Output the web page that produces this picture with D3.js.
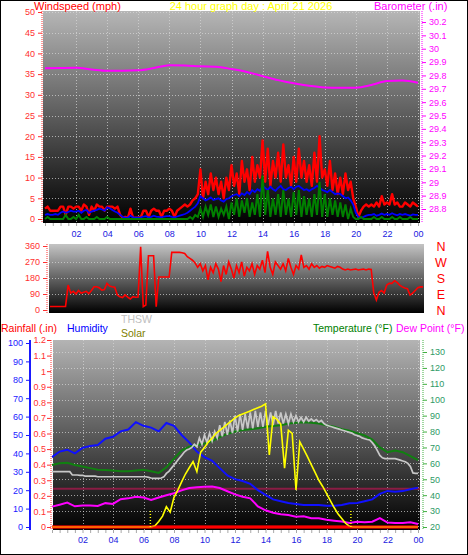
<!DOCTYPE html>
<html><head><meta charset="utf-8">
<script src="https://cdn.jsdelivr.net/npm/d3@7"></script>
<style>
body{margin:0;background:#fff}
svg{display:block}
text{font-family:Arial,"Liberation Sans",sans-serif}
</style>
</head><body>
<svg id="c" width="468" height="555"></svg>
<script>
// ---------------- DATA ----------------
const titleText = "24 hour graph day : April 21 2026";
const hourTicks = [2,4,6,8,10,12,14,16,18,20,22,24];
const hourTickLabels = ["02","04","06","08","10","12","14","16","18","20","22","00"];
const minorHourTicks = [0,0.5,1,1.5,2,2.5,3,3.5,4,4.5,5,5.5,6,6.5,7,7.5,8,8.5,9,9.5,10,10.5,11,11.5,12,12.5,13,13.5,14,14.5,15,15.5,16,16.5,17,17.5,18,18.5,19,19.5,20,20.5,21,21.5,22,22.5,23,23.5,24];

const windTicks = [0,5,10,15,20,25,30,35,40,45,50];
const baroTicks = [28.8,28.9,29.0,29.1,29.2,29.3,29.4,29.5,29.6,29.7,29.8,29.9,30.0,30.1,30.2];
const dirTicks = [0,90,180,270,360];
const dirLetters = ["N","E","S","W","N"];
const humTicks = [0,10,20,30,40,50,60,70,80,90,100];
const rainTicks = [0,0.1,0.2,0.3,0.4,0.5,0.6,0.7,0.8,0.9,1.0,1.1,1.2];
const tempTicks = [20,30,40,50,60,70,80,90,100,110,120,130];

// wind, 10-minute samples (mph)
const windHigh = [
 2.5,3,2,2,2,2,  3,3,1,3,3,2.5,  3,3,2,3.5,3,1,  3,2,3.5,3,3,2,
 3,3,3,2.5,3,1,  0.3,0.5,0.3,2.5,0.3,0.3,  0.3,0.5,2,2,0.5,2,  2.5,2,2,0.5,2,2,
 2.5,2,0.5,2,2.5,3,  3.5,3,3.5,4.5,5,6,  12,5,9,6,11,7,  10,6,9,5,10,7,
 13,8,11,6,14,9,  12,7,15,9,13,10,  19,9,17,8,14,10,  16,9,18,10,13,8,
 15,9,17,10,14,9,  13,8,16,9,20,10,  12,8,14,7,11,6,  10,6,11,7,9,5,
 3,0.5,2,3,3.5,3,  3.5,3,4,3,5.5,3.5,  4,3.5,6,3.5,4,3,  3,4,3.5,3,4,3.5,
 3];
const windAvg = [
 1,1.2,1,1,1.2,1,  1.5,1.8,1.5,1.7,2,1.8,  1.8,2,1.5,2,2.2,1.5,  1.8,2,2.2,2.5,2.3,2,
 2.8,2.6,2.2,1.8,1.5,1,  0.5,0.3,0.3,0.8,0.4,0.3,  0.3,0.4,0.6,0.7,0.4,0.5,  0.8,0.6,0.5,0.4,0.6,0.7,
 0.7,0.5,0.4,0.6,0.8,1,  1.2,1.5,2,2.5,3,3.8,  5.5,5,4.5,4.8,5.2,4.6,  4.8,5,4.5,4.2,4.8,5,
 5.5,5.8,6,5.5,6.2,5.8,  6.5,6,7,6.5,7.2,6.8,  8,7.5,7,7.8,7.2,6.8,  7.5,8,7.2,7,7.5,7.8,
 7.2,7.8,8,7.5,7,7.2,  6.8,7.2,7.5,8,7.6,7,  6.8,6.5,7,6.5,6,6.2,  6,5.5,5,5.2,4.5,3.5,
 1.5,0.5,0.3,0.5,0.8,1,  1,1.2,0.8,1,1.3,1,  1.2,1,1.4,1.1,0.9,1.2,  1,1.2,1,0.8,1.1,1,
 1];
const windLow = [
 0,0.5,0,0,0,0,  0,0,1,0,0,0.5,  0,1,0,0,0.5,0,  0,0,0.5,0,0,0,
 0.5,0,0,0,0,0,  0,0,0,0,0,0,  0,0,0,0,0,0,  0,0,0,0,0,0,
 0,0,0,0,0,0,  0,0,0.5,0,1,0.5,  2.5,0.5,3,1,3.5,0.5,  3,0.5,2.5,1,3,0,
 4,1,5,0.5,4.5,1.5,  5,0.5,4,1,6,0.5,  10.5,1,7,0.5,5,1,  6,0.5,7,1,5,0.5,
 6.5,1,7,0.5,5.5,1,  5,0.5,6,1,9,0.5,  6,0.5,5,1,4.5,0.5,  4,0.5,3.5,0,2.5,0.5,
 0,0,0.5,0,0,0,  0,0.5,0,0,0.5,0,  0,0,0.5,0,0,0.5,  0,0,0,0.5,0,0,
 0];
// barometer, hourly (in)
const baro = [29.853,29.856,29.857,29.845,29.835,29.835,29.838,29.855,29.877,29.875,29.868,29.865,
 29.848,29.826,29.795,29.765,29.741,29.722,29.710,29.707,29.708,29.728,29.758,29.762,29.745];
// wind direction, 10-minute samples (degrees)
const windDir = [
 20,20,20,20,20,20,  20,140,96,105,90,110,  95,100,105,92,110,131,  131,125,112,115,150,135,
 131,128,84,75,70,85,  73,62,75,72,73,356,  19,28,305,305,305,19,  186,186,186,186,186,324,
 324,324,324,322,318,300,  290,280,265,240,260,220,  250,170,240,210,260,230,  160,250,200,270,230,180,
 250,210,270,190,240,220,  260,200,250,230,280,210,  330,240,200,270,250,230,  260,220,290,240,200,250,
 230,310,240,250,230,260,  240,250,235,245,240,250,  245,240,235,245,240,230,  225,230,225,228,230,225,
 228,230,225,230,228,96,  56,100,110,95,140,150,  150,165,155,140,130,124,  120,84,95,110,125,130,
 130];
// 30-minute samples
const humidity = [38,41,42,40,43,44,44.6,48,49,52,53,57,55,54,52,56.5,55,50,46,41,38,36,32,28,26,25,23.5,20,17.5,15,14,13,12.5,12,12,12,11.5,11.5,12,12.9,13,14,15,18,19.6,19.2,19.5,20.5,21.4];
const temperature = [59,60,60.4,59,58,57,56,55.8,55.5,55,55,55.5,56,55,54,57.5,63,68,70.5,71.5,72.5,74,76.5,78.5,80,81,81.5,82,83,83.5,84,85,85.5,85.8,85.5,85,84,83,81.5,80.5,79,77.5,75,70,67,68,67,64.5,62];
const dewPoint = [32.8,34,35.3,33,33.5,33.5,33.2,35,34.5,37.5,38,39,38.5,37,38.5,40,41.2,43,44.5,45,45.3,45.5,44.5,42.5,40.5,39,38,33,30.5,29,28,27.5,26.5,26.8,25.5,25.5,24.5,24,23.5,22.5,23.3,23,23.3,25.6,22.8,22.5,22.5,23,21.9];
// THSW index, 10-minute samples (F)
const thsw = [
 54.8,54.8,54.8,54.8,54.8,54.8,  54.8,54.8,52.7,52.7,52.7,52.5,  52.5,52,52,52,52,52,  51.6,51.6,51.6,51.6,51.6,51.6,
 51.6,51.6,51.6,51.6,51.6,51.6,  51.6,51.6,51.6,51.6,51.6,51.6,  51.6,51.6,51.2,50.8,50.6,50.6,  50.6,50.8,51.5,53.7,55,57,
 59,61,63,65,67,68.4,  69,70,72,70.5,76,72,  78,73,79,74,80,76,  84,77,86,78,87,79,
 90,80,91,81,91,82,  92,82,93,83,92,83,  93,84,92,84,93,85,  92,85,91,85,91,86,
 90,86,89,86,89,86.5,  88,86.5,87.5,86,87,85,  84,83.5,83,82.5,82,81.5,  81,80.5,80,79.5,79,78,
 77.5,77,76,75.5,75,74.7,  73,71,68,65,63.5,63,  63,63,63,63,62.5,62,  61.5,61,60,58,54,53.7,
 53.7];
// solar radiation, 15-minute samples (W/m2)
const solar = [
 0,0,0,0, 0,0,0,0, 0,0,0,0, 0,0,0,0, 0,0,0,0, 0,0,0,0,
 0,0,0,8, 35,70,130,95, 190,237,290,340, 380,420,355,480, 510,545,570,600, 620,640,660,680,
 700,715,725,735, 745,755,765,775, 790,462,708,690, 660,378,620,600, 237,547,500,451, 400,350,300,260,
 216,170,125,85, 55,24,5,0, 0,0,0,0, 0,0,0,0, 0,0,0,0, 0,0,0,0,
 0];
// rainfall, hourly (in)
const rainfall = [0,0,0,0,0,0,0,0,0,0,0,0,0,0,0,0,0,0,0,0,0,0,0,0,0];
const sunTimes = [6.45, 19.6];
const refLevel = [44]; // constant maroon line (F)

// ---------------- DRAW ----------------
const svg = d3.select("#c");
const defs = svg.append("defs");
function grad(id, top) {
  const g = defs.append("linearGradient").attr("id", id).attr("x1",0).attr("y1",0).attr("x2",0).attr("y2",1);
  g.append("stop").attr("offset","0%").attr("stop-color",top);
  g.append("stop").attr("offset","100%").attr("stop-color","#000");
}
grad("gTop","#b6b6b6"); grad("gMid","#c4c4c4"); grad("gBot","#b4b4b4");

svg.append("rect").attr("x",0.5).attr("y",0.5).attr("width",467).attr("height",554)
  .attr("fill","#fff").attr("stroke","#000");

const ser = (arr, step) => arr.map((v,i)=>({h:i*step, v}));

function vgrid(g, x, y0, y1) {
  g.selectAll(null).data(hourTicks).enter().append("line")
    .attr("x1",d=>Math.round(x(d))+0.5).attr("x2",d=>Math.round(x(d))+0.5).attr("y1",y0).attr("y2",y1)
    .attr("stroke","#d8d8d8").attr("stroke-dasharray","1,2").attr("stroke-opacity",0.7);
}
function hgrid(g, y, ticks, x0, x1) {
  g.selectAll(null).data(ticks).enter().append("line")
    .attr("y1",d=>Math.round(y(d))+0.5).attr("y2",d=>Math.round(y(d))+0.5).attr("x1",x0).attr("x2",x1)
    .attr("stroke","#d8d8d8").attr("stroke-dasharray","1,2").attr("stroke-opacity",0.7);
}
function styleAxis(g, color, dotted, fs) {
  g.select(".domain").attr("stroke",color).attr("stroke-dasharray",dotted?"1,1":null);
  g.selectAll(".tick line").attr("stroke",color);
  g.selectAll(".tick text").attr("fill",color).style("font-size",(fs||9)+"px").style("font-family","Arial, 'Liberation Sans', sans-serif");
}
function xAxis(x, y, pad) {
  const gm = svg.append("g").attr("transform",`translate(0,${y})`)
    .call(d3.axisBottom(x).tickValues(minorHourTicks).tickSize(3).tickFormat(""));
  gm.select(".domain").remove();
  gm.selectAll(".tick line").attr("stroke","#a8a8a8");
  const g = svg.append("g").attr("transform",`translate(0,${y})`)
    .call(d3.axisBottom(x).tickValues(hourTicks).tickSize(0).tickPadding(pad).tickFormat((d,i)=>hourTickLabels[i]));
  g.select(".domain").remove();
  g.selectAll(".tick text").attr("fill","#2020e0").style("font-size","9px");
}

// ===== TOP PANEL =====
const T = {x0:43, x1:420, y0:11, y1:223};
const xT = d3.scaleLinear([0,24],[45,418]);
const yW = d3.scaleLinear([0,50],[219,12]);
const yB = d3.scaleLinear([28.8,30.2],[209,22]);
svg.append("rect").attr("x",T.x0).attr("y",T.y0).attr("width",T.x1-T.x0).attr("height",T.y1-T.y0).attr("fill","url(#gTop)");
const gT = svg.append("g");
hgrid(gT, yW, windTicks.slice(1), T.x0, T.x1);
vgrid(gT, xT, T.y0, T.y1);
svg.append("path").datum(ser(baro,1)).attr("fill","none").attr("stroke","#ff00ff").attr("stroke-width",2)
  .attr("d", d3.line().x(d=>xT(d.h)).y(d=>yB(d.v)).curve(d3.curveMonotoneX));
const wl = d3.line().x(d=>xT(d.h)).y(d=>yW(d.v));
svg.append("path").datum(ser(windHigh,1/6)).attr("fill","none").attr("stroke","#ff0000").attr("stroke-width",2.4).attr("stroke-linejoin","round").attr("d",wl);
svg.append("path").datum(ser(windAvg,1/6)).attr("fill","none").attr("stroke","#0000ff").attr("stroke-width",1.8).attr("d",wl);
svg.append("path").datum(ser(windLow,1/6)).attr("fill","none").attr("stroke","#008000").attr("stroke-width",2).attr("d",wl);
// axes
let ga = svg.append("g").attr("transform","translate(42,0)").call(d3.axisLeft(yW).tickValues(windTicks).tickSize(4).tickPadding(3));
styleAxis(ga,"#ff3030",true);
ga.select(".domain").attr("d",`M0,${T.y0}V${T.y1}`);
ga = svg.append("g").attr("transform","translate(422,0)").call(d3.axisRight(yB).tickValues(baroTicks).tickSize(4).tickPadding(3).tickFormat(d=>String(+d.toFixed(1))));
styleAxis(ga,"#ff00ff",true);
ga.select(".domain").attr("d",`M0,${T.y0}V${T.y1}`);
xAxis(xT, T.y1, 8);

// titles
svg.append("text").attr("x",34).attr("y",10).attr("fill","#ff0000").style("font-size","11px").text("Windspeed (mph)");
svg.append("text").attr("x",251).attr("y",10).attr("text-anchor","middle").attr("fill","#ffff00").style("font-size","11px").text(titleText);
svg.append("text").attr("x",374).attr("y",10).attr("fill","#ff00ff").style("font-size","11px").text("Barometer (.in)");

// ===== MIDDLE PANEL =====
const M = {x0:49, x1:424, y0:244, y1:313};
const xM = d3.scaleLinear([0,24],[50,423]);
const yD = d3.scaleLinear([0,360],[310,246]);
svg.append("rect").attr("x",M.x0).attr("y",M.y0).attr("width",M.x1-M.x0).attr("height",M.y1-M.y0).attr("fill","url(#gMid)");
hgrid(svg.append("g"), yD, [90,180,270], M.x0, M.x1);
svg.append("path").datum(ser(windDir,1/6)).attr("fill","none").attr("stroke","#ff0000").attr("stroke-width",1.6)
  .attr("d", d3.line().x(d=>xM(d.h)).y(d=>yD(d.v)));
ga = svg.append("g").attr("transform","translate(47,0)").call(d3.axisLeft(yD).tickValues(dirTicks).tickSize(4).tickPadding(3));
styleAxis(ga,"#ff3030",true);
ga.select(".domain").attr("d",`M0,${M.y0}V${M.y1}`);
svg.selectAll(null).data(dirTicks).enter().append("text")
  .attr("x",441).attr("y",d=>yD(d)).attr("dy","0.36em").attr("text-anchor","middle")
  .attr("fill","#ff0000").style("font-size","12.5px").text((d,i)=>dirLetters[i]);

// ===== BOTTOM PANEL =====
const B = {x0:53, x1:420, y0:340, y1:530};
const xB = d3.scaleLinear([0,24],[52,418]);
const yH = d3.scaleLinear([0,100],[527,343]);
const yR = d3.scaleLinear([0,1.2],[527,340]);
const yTp = d3.scaleLinear([20,130],[527,352]);
const yS = d3.scaleLinear([0,1200],[527,340]);
svg.append("rect").attr("x",B.x0).attr("y",B.y0).attr("width",B.x1-B.x0).attr("height",B.y1-B.y0).attr("fill","url(#gBot)");
const gB = svg.append("g");
hgrid(gB, yTp, tempTicks.slice(1), B.x0, B.x1);
vgrid(gB, xB, B.y0, B.y1);
svg.selectAll(null).data(refLevel).enter().append("line")
  .attr("x1",B.x0).attr("x2",B.x1).attr("y1",d=>yTp(d)).attr("y2",d=>yTp(d))
  .attr("stroke","#8a1c44").attr("stroke-width",2);
const l30 = (y)=>d3.line().x(d=>xB(d.h)).y(d=>y(d.v));
svg.append("path").datum(ser(humidity,0.5)).attr("fill","none").attr("stroke","#1010ff").attr("stroke-width",2).attr("d",l30(yH));
svg.append("path").datum(ser(temperature,0.5)).attr("fill","none").attr("stroke","#108010").attr("stroke-width",2).attr("d",l30(yTp));
svg.append("path").datum(ser(thsw,1/6)).attr("fill","none").attr("stroke","#c8c8c8").attr("stroke-width",1.7).attr("d",l30(yTp));
svg.append("path").datum(ser(dewPoint,0.5)).attr("fill","none").attr("stroke","#ff00ff").attr("stroke-width",2).attr("d",l30(yTp));
// rain under solar, solar, rain blended on top
svg.append("path").datum(ser(rainfall,1)).attr("fill","none").attr("stroke","#ff0000").attr("stroke-width",3).attr("d",l30(yR));
svg.append("path").datum(ser(solar,0.25)).attr("fill","none").attr("stroke","#ffff00").attr("stroke-width",1.6).attr("d",l30(yS));
svg.append("path").datum(ser(rainfall,1)).attr("fill","none").attr("stroke","#ff0000").attr("stroke-opacity",0.5).attr("stroke-width",3).attr("d",l30(yR));
svg.selectAll(null).data(sunTimes).enter().append("line")
  .attr("x1",d=>xB(d)).attr("x2",d=>xB(d)).attr("y1",511).attr("y2",527)
  .attr("stroke","#ffff00").attr("stroke-dasharray","1,2").attr("stroke-width",1.5);
// axes
ga = svg.append("g").attr("transform","translate(30,0)").call(d3.axisLeft(yH).tickValues(humTicks).tickSize(4).tickPadding(3));
styleAxis(ga,"#1a1aff",false);
ga.select(".domain").attr("d",`M0,${B.y0}V${B.y1}`).attr("stroke-width",2);
ga = svg.append("g").attr("transform","translate(51,0)").call(d3.axisLeft(yR).tickValues(rainTicks).tickSize(4).tickPadding(1).tickFormat(d=>String(+d.toFixed(1))));
styleAxis(ga,"#ff3030",true);
ga.select(".domain").attr("d",`M0,${B.y0}V${B.y1}`);
ga = svg.append("g").attr("transform","translate(423,0)").call(d3.axisRight(yTp).tickValues(tempTicks).tickSize(4).tickPadding(3));
styleAxis(ga,"#2e9a66",true);
ga.select(".domain").attr("d",`M0,${B.y0}V${B.y1}`).attr("stroke","#40b040");
ga.selectAll(".tick line").attr("stroke","#40b040");
xAxis(xB, B.y1, 7);

// bottom legend labels
const lab = (x,y,c,t)=>svg.append("text").attr("x",x).attr("y",y).attr("fill",c).style("font-size","10.5px").text(t);
lab(1,332,"#ff0000","Rainfall (.in)");
lab(67,332,"#0000ff","Humidity");
lab(121,323,"#c0c0c0","THSW");
lab(121,337,"#808000","Solar");
lab(313,332,"#008000","Temperature (°F)");
lab(396,332,"#ff00ff","Dew Point (°F)");
</script>
</body></html>
